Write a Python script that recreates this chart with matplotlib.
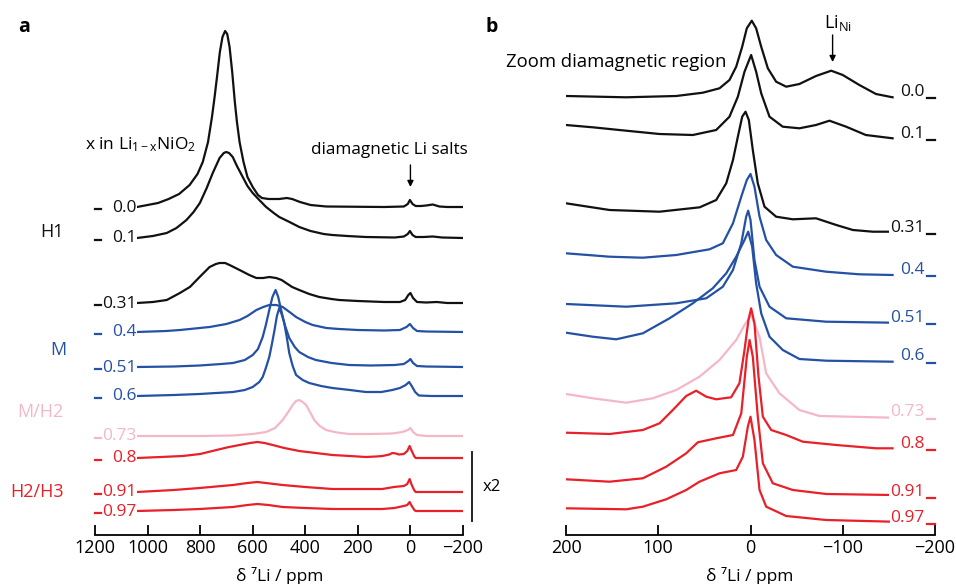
import matplotlib
matplotlib.use("Agg")
import matplotlib.pyplot as plt
from matplotlib.lines import Line2D

plt.rcParams['font.family'] = ['Open Sans', 'DejaVu Sans']
plt.rcParams['mathtext.fontset'] = 'custom'
plt.rcParams['mathtext.rm'] = 'Open Sans'
plt.rcParams['mathtext.it'] = 'Open Sans:italic'

# ---------------- data: (ppm, intensity above baseline) ----------------
LABELS = ["0.0", "0.1", "0.31", "0.4", "0.51", "0.6", "0.73", "0.8", "0.91", "0.97"]
PHASES = ["H1", "M", "M/H2", "H2/H3"]

A_00 = [(1040,0),(1000,2),(960,4),(920,8),(880,13),(840,22),(810,33),(790,45),(770,65),(755,90),(745,110),(735,132),(725,155),(715,170),(705,176),(697,173),(688,160),(678,135),(668,105),(660,85),(650,65),(635,45),(620,30),(600,20),(580,12),(565,9),(540,8),(500,8),(470,9),(450,8),(420,5),(380,2),(320,0.5),(100,0),(25,0.5),(10,3),(2,7),(-8,3),(-20,1),(-40,1),(-60,1.5),(-85,2.5),(-110,0.5),(-140,0),(-200,0)]
A_01 = [(1040,0),(980,2),(927,5),(890,10),(852,18),(825,26),(801,35),(775,50),(752,65),(726,80),(710,85),(701,86),(690,85),(676,81),(660,72),(638,61),(620,52),(600,45),(575,38),(549,31),(520,25),(499,21),(460,16),(423,11),(380,7),(330,4),(297,3),(240,2),(170,1),(60,0.5),(25,1.5),(10,4),(2,7),(-8,3),(-20,1),(-50,1),(-85,1.5),(-120,0.5),(-200,0)]
A_031 = [(1040,0),(980,1),(927,3),(877,10),(852,14),(839,16),(802,26),(764,36),(740,39),(726,40),(705,40),(688,38),(650,33),(613,28),(586,25),(560,25),(537,26),(511,25),(490,23),(473,20),(450,16),(423,13),(385,9),(347,6),(300,4),(271,3),(200,2),(100,1),(40,1),(20,3),(8,8),(0,10),(-10,5),(-25,1),(-60,0.5),(-100,1),(-140,0),(-200,0)]
A_04 = [(1040,0),(930,1),(877,2),(764,5),(700,8),(650,12),(620,16),(586,22),(560,25),(537,27),(510,27),(486,25),(460,20),(435,15),(400,10),(372,7),(320,4),(271,3),(200,2),(100,1.5),(40,2),(15,5),(2,8),(-10,4),(-25,1),(-60,0.5),(-200,0)]
A_051 = [(1040,0),(900,0.5),(802,1.5),(720,3),(675,4),(630,7),(600,12),(580,18),(562,30),(550,42),(537,57),(525,70),(513,77),(503,70),(492,57),(478,42),(461,29),(440,20),(423,15),(390,10),(360,7),(300,4),(233,2),(150,1.5),(60,2),(25,3),(8,6),(0,8),(-10,4),(-25,1),(-60,0.5),(-200,0)]
A_06 = [(1040,0),(900,1),(802,2),(675,4),(630,6),(600,9),(575,14),(562,19),(550,28),(537,39),(527,52),(517,66),(508,80),(499,88),(490,82),(480,73),(470,58),(461,43),(448,30),(435,21),(410,16),(385,13),(340,10),(297,8),(230,6),(170,4),(110,4),(69,6),(40,8),(18,11),(5,14),(-5,10),(-18,4),(-32,0.5),(-80,0),(-200,0)]
A_073 = [(1040,0),(800,0),(675,0.5),(600,2),(549,4),(515,8),(486,16),(465,24),(448,31),(435,35),(423,36),(410,34),(397,31),(380,23),(366,16),(345,10),(321,6),(280,3.5),(233,2),(150,2),(69,2.5),(30,4),(10,6),(0,8),(-10,4),(-25,1),(-60,0),(-200,0)]
A_08 = [(1040,0),(950,1),(866,2),(800,4),(738,8),(690,11),(650,13),(610,15),(582,16),(555,15),(524,13),(480,10),(423,7),(360,5),(297,3),(230,2),(170,1),(130,1.5),(107,2),(80,3.5),(69,5),(55,4.5),(44,3.5),(25,4),(12,7),(3,12),(-5,7),(-15,1.5),(-20,0),(-200,0)]
A_091 = [(1040,0),(900,2),(802,4),(675,7),(620,9),(582,10),(550,9),(486,7),(400,5),(297,3),(200,3),(107,3),(63,5),(25,6),(12,8),(3,13),(-5,7),(-15,1.5),(-20,0),(-200,0)]
A_097 = [(1040,0),(900,1),(802,2),(675,4),(620,6),(582,7),(540,6),(486,4),(400,3),(297,2),(200,2),(107,2),(60,3),(44,4),(25,5),(12,6),(3,9),(-5,5),(-15,1),(-20,0),(-200,0)]

B_00 = [(200,0),(135,-1.3),(80.5,0),(51.7,3.3),(33.6,7.7),(22.8,16),(15.5,29.3),(9,49.3),(4,67.7),(-1.4,75.3),(-6.1,67.7),(-11.6,49.3),(-18.8,27.7),(-27.8,14.3),(-38.7,9.3),(-53,12),(-71,20),(-87.5,25.3),(-100,21),(-118,11),(-136,2),(-154,-1.3)]
B_01 = [(200,13),(171,10.7),(134.7,7.3),(98.6,4),(62.5,3),(37.2,8),(22.8,21.3),(13.7,41.3),(6.5,66.3),(-0.7,83),(-6.1,66.3),(-11.6,44.7),(-20.6,21.3),(-35,11.3),(-53,9.7),(-71,13),(-85.6,17.3),(-103.7,11.3),(-125,3),(-154,-0.3)]
B_031 = [(200,28.7),(152.8,22),(98.6,20.3),(55,24.7),(37.2,32),(26.3,48.7),(19,72),(13.7,95.3),(9,115.3),(5.4,120.3),(1.8,112),(-2.5,82),(-7.9,48.7),(-15.2,25.3),(-27.8,15.3),(-45.9,12.7),(-71,13.7),(-93,7),(-111,2),(-132.6,0.3),(-150.7,0.3)]
B_04 = [(200,20.7),(152.8,17.3),(116.7,16.3),(80.5,19),(44.4,24.7),(30,30.7),(19,50.7),(10,77.3),(4,94),(0,100),(-4.3,87.3),(-9.8,57.3),(-17,34),(-27.8,19),(-45.9,7.3),(-82,2.3),(-118,-0.3),(-154,-1)]
B_051 = [(200,18),(134.7,15.3),(80.5,18.7),(48,23.7),(30,35.3),(19,52),(10,78.7),(4.7,105.3),(2.5,111.3),(0,102),(-4.3,62),(-9.8,35.3),(-20.6,15.3),(-38.7,3.7),(-82,0.3),(-154,-0.7)]
B_06 = [(200,28.3),(171,24.3),(145.6,21.7),(116.7,27.7),(87.8,42.7),(62.5,57.7),(40.9,72.7),(26.3,87.7),(15.5,104.3),(6.5,121),(2.5,129.3),(-1.8,114.3),(-6.1,77.7),(-11.6,47.7),(-20.6,24.3),(-35,11),(-53,2),(-82,0.3),(-154,-0.7)]
B_073 = [(200,23),(171,18.7),(134.7,14.3),(105.9,18.7),(80.5,27),(55.3,40.3),(33.6,57),(15.5,77),(6.5,92),(-0.7,102),(-9.8,80),(-17,43.7),(-31.4,23.7),(-53,7),(-74.8,1),(-154,-0.7)]
B_08 = [(200,15.3),(152.8,14),(116.7,18),(98.6,24.7),(84.2,38),(69.7,52),(58.9,57.3),(48,51.3),(37.2,48.7),(21,50.7),(12,64.7),(6.5,98),(2.2,128),(-0.7,139.7),(-4.3,124.7),(-8.7,71.3),(-13.4,31.3),(-22.4,18),(-38.7,13),(-56.7,6.3),(-93,3),(-136,-0.3),(-154,-0.3)]
B_091 = [(200,16.7),(152.8,14.3),(116.7,17.7),(91.4,29.3),(69.7,42.7),(57.1,53.7),(37.2,57.7),(19,61),(10,82.7),(4,139.3),(1,156),(-2.5,139.3),(-7.9,79.3),(-13.4,32.7),(-24.2,12.7),(-45.9,6),(-82,2),(-154,1)]
B_097 = [(200,13.7),(134.7,12.7),(116.7,15.3),(91.4,22.7),(69.7,32),(55.3,40.3),(33.6,48.7),(15.5,52),(8.3,65.3),(2.9,95.3),(0,105.3),(-4.3,82),(-9.8,32),(-17,15.3),(-38.7,6),(-82,2),(-154,0.3)]

A_SPECTRA = [A_00, A_01, A_031, A_04, A_051, A_06, A_073, A_08, A_091, A_097]
B_SPECTRA = [B_00, B_01, B_031, B_04, B_051, B_06, B_073, B_08, B_091, B_097]

A_TICKS = [1200, 1000, 800, 600, 400, 200, 0, -200]
B_TICKS = [200, 100, 0, -100, -200]

# ---------------- layout / style ----------------
W, H = 956, 584
AXIS_Y = 535
A_BASE = [207, 238, 303, 332, 367, 396, 436, 458, 492, 511]
B_BASE = [96, 138, 232, 274, 322, 361, 417, 448, 496, 522]
BLACK, BLUE, PINK, RED = '#111111', '#2451a3', '#f5b7c6', '#e8202a'
COLORS = [BLACK, BLACK, BLACK, BLUE, BLUE, BLUE, PINK, RED, RED, RED]
PHASE_COLORS = [BLACK, BLUE, PINK, RED]

fig = plt.figure(figsize=(W / 100, H / 100), dpi=100)


def fx(px):
    return px / W


def fy(py):
    return 1 - py / H


def make_ax(x0, x1, lim, ticks):
    ax = fig.add_axes([fx(x0), fy(AXIS_Y), (x1 - x0) / W, AXIS_Y / H])
    ax.set_xlim(*lim)
    ax.set_ylim(0, AXIS_Y)
    for s in ['left', 'right', 'top']:
        ax.spines[s].set_visible(False)
    ax.spines['bottom'].set_linewidth(1.3)
    ax.set_yticks([])
    ax.set_xticks(ticks)
    ax.set_xticklabels([str(t).replace('-', '\u2212') for t in ticks])
    ax.tick_params(axis='x', direction='in', length=7, width=1.3, labelsize=13, pad=3)
    ax.patch.set_alpha(0)
    return ax


axA = make_ax(95, 463, (1200, -200), A_TICKS)
axB = make_ax(566, 935, (200, -200), B_TICKS)

# ---- panel a ----
for spec, base, col, lab in zip(A_SPECTRA, A_BASE, COLORS, LABELS):
    xs = [p for p, h in spec]
    ys = [AXIS_Y - base + h for p, h in spec]
    axA.plot(xs, ys, color=col, lw=1.6, solid_joinstyle='round', zorder=2)
    axA.text(1043, AXIS_Y - base - 0.5, lab, ha='right', va='center', fontsize=12.5,
             color=col, zorder=4,
             bbox=dict(facecolor='white', edgecolor='none', pad=0.8))
    axA.add_line(Line2D([1200, 1178], [AXIS_Y - base - 1.5] * 2, color=col, lw=1.6,
                        clip_on=False, zorder=5))

# ---- panel b ----
for spec, base, col, lab in zip(B_SPECTRA, B_BASE, COLORS, LABELS):
    xs = [p for p, h in spec]
    ys = [AXIS_Y - base + h for p, h in spec]
    axB.plot(xs, ys, color=col, lw=1.6, solid_joinstyle='round', zorder=2)
    axB.text(-189, AXIS_Y - base + 4.5, lab, ha='right', va='center', fontsize=12.5,
             color=col, zorder=4,
             bbox=dict(facecolor='white', edgecolor='none', pad=0.8))
    axB.add_line(Line2D([-191, -200], [AXIS_Y - base - 2] * 2, color=col, lw=1.6,
                        clip_on=False, zorder=5))

# ---- annotations ----
fig.text(fx(18), fy(27), 'a', fontsize=14, fontweight='bold', va='center', ha='left')
fig.text(fx(485), fy(27), 'b', fontsize=14, fontweight='bold', va='center', ha='left')

fig.text(fx(85), fy(145), r'x in Li$_\mathregular{1-x}$NiO$_\mathregular{2}$',
         fontsize=12.5, va='center', ha='left')
fig.text(fx(468), fy(150), 'diamagnetic Li salts', fontsize=12.3, va='center', ha='right')
axA.annotate('', xy=(0, AXIS_Y - 187), xytext=(0, AXIS_Y - 165),
             arrowprops=dict(arrowstyle='-|>', color='black', lw=1.0,
                             mutation_scale=9, shrinkA=0, shrinkB=0))

phase_pos = [(52, 232), (58, 350), (40, 412), (37, 492)]
for (px, py), name, col in zip(phase_pos, PHASES, PHASE_COLORS):
    fig.text(fx(px), fy(py), name, fontsize=13, color=col, va='center', ha='center')

fig.add_artist(Line2D([fx(472), fx(472)], [fy(452), fy(521)], color='#222222', lw=1.4))
fig.text(fx(483), fy(487), 'x2', fontsize=12, va='center', ha='left')

fig.text(fx(506), fy(62), 'Zoom diamagnetic region', fontsize=13.3, va='center', ha='left')
fig.text(fx(838), fy(23), r'Li$_\mathregular{Ni}$', fontsize=13, va='center', ha='center')
axB.annotate('', xy=(-89, AXIS_Y - 62), xytext=(-89, AXIS_Y - 35),
             arrowprops=dict(arrowstyle='-|>', color='black', lw=1.0,
                             mutation_scale=9, shrinkA=0, shrinkB=0))

fig.text(fx(280), fy(576), 'δ \u2077Li / ppm', fontsize=12.5, va='center', ha='center')
fig.text(fx(750), fy(576), 'δ \u2077Li / ppm', fontsize=12.5, va='center', ha='center')

fig.savefig('out.png', dpi=100)
